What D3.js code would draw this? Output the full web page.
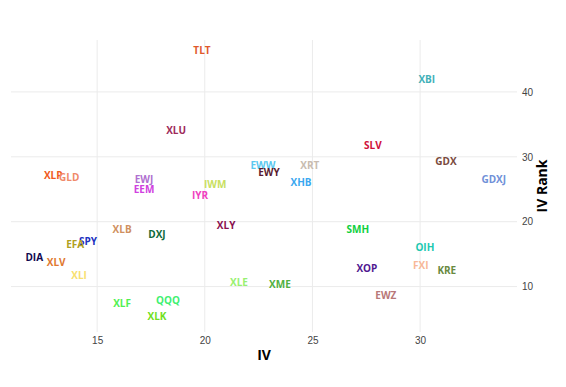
<!DOCTYPE html>
<html>
<head>
<meta charset="utf-8">
<script src="https://cdn.jsdelivr.net/npm/d3@7"></script>
<style>
    body { margin: 0; background: #fff; }
    svg { display: block; font-family: "Open Sans", Verdana, Arial, sans-serif; }
    .grid line { stroke: #ebebeb; stroke-width: 1; }
    .axis-scale text { fill: #444; font-size: 10px; }
    .axis-scale path { display: none; }
    .ticker { font-size: 10px; font-weight: bold; }
    .axis-title { font-size: 14px; font-weight: bold; fill: #000; }
</style>
</head>
<body>
<div id="chart-container"></div>
<script>
// tickers and their implied volatility / IV rank
const TICKERS = ["TLT", "XBI", "XLU", "SLV", "GDX", "GDXJ", "XLP", "GLD", "EWW", "XRT",
    "EWY", "XHB", "EWJ", "EEM", "IWM", "IYR", "XLY", "SMH", "XLB", "DXJ",
    "SPY", "EFA", "OIH", "DIA", "XLV", "XOP", "FXI", "KRE", "XLI", "XLE",
    "XME", "EWZ", "QQQ", "XLF", "XLK"];

const IV = [19.87, 30.31, 18.67, 27.81, 31.2, 33.42, 12.96, 13.7, 22.7, 24.88,
    22.98, 24.47, 17.18, 17.18, 20.48, 19.78, 20.99, 27.11, 16.16, 17.78,
    14.58, 13.98, 30.22, 12.08, 13.1, 27.53, 30.03, 31.24, 14.16, 21.59,
    23.49, 28.41, 18.29, 16.16, 17.78];

const IV_RANK = [46.5, 42.0, 34.15, 31.85, 29.4, 26.6, 27.2, 26.9, 28.8, 28.8,
    27.7, 26.15, 26.6, 25.1, 25.85, 24.15, 19.5, 18.9, 18.9, 18.15,
    17.1, 16.6, 16.15, 14.5, 13.85, 12.8, 13.4, 12.6, 11.85, 10.75,
    10.45, 8.75, 8.0, 7.4, 5.5];

// one colour per ticker
const PALETTE = ["#e0582b", "#40b0b8", "#9e2a5a", "#d0103a", "#7a4a3e", "#7090d8", "#f05a20", "#f08a6a", "#5ac8f0", "#c8bcb0",
    "#5a1a2e", "#3aa8f0", "#b070d0", "#d040e0", "#c8e060", "#f040c0", "#8a1050", "#10d040", "#d09060", "#106a3a",
    "#2030c0", "#b0a020", "#20c8b0", "#100a50", "#e07830", "#501890", "#f8b898", "#6a8a40", "#f8e070", "#98f070",
    "#50b040", "#b87878", "#40f070", "#50f050", "#70e020"];

const X_TICKS = [15, 20, 25, 30];
const Y_TICKS = [10, 20, 30, 40];

function drawScatter() {
    const width = 566;
    const height = 387;
    const plot = { left: 11, right: 517, top: 40, bottom: 332 };

    const svg = d3.select("#chart-container")
        .append("svg")
        .attr("width", width)
        .attr("height", height);

    const x = d3.scaleLinear()
        .domain([11, 34.5])
        .range([plot.left, plot.right]);

    const y = d3.scaleLinear()
        .domain([3, 48])
        .range([plot.bottom, plot.top]);

    const color = d3.scaleOrdinal()
        .domain(TICKERS)
        .range(PALETTE);

    // grid lines
    const grid = svg.append("g").attr("class", "grid");
    grid.selectAll(".vx")
        .data(X_TICKS)
        .enter()
        .append("line")
        .attr("x1", d => x(d)).attr("x2", d => x(d))
        .attr("y1", plot.top).attr("y2", plot.bottom);
    grid.selectAll(".hy")
        .data(Y_TICKS)
        .enter()
        .append("line")
        .attr("x1", plot.left).attr("x2", plot.right)
        .attr("y1", d => y(d)).attr("y2", d => y(d));

    // bottom axis
    svg.append("g")
        .attr("class", "axis-scale")
        .attr("transform", `translate(0,${plot.bottom})`)
        .call(d3.axisBottom(x).tickValues(X_TICKS).tickSize(0).tickPadding(5));

    // right axis
    svg.append("g")
        .attr("class", "axis-scale")
        .attr("transform", `translate(${plot.right},0)`)
        .call(d3.axisRight(y).tickValues(Y_TICKS).tickSize(0).tickPadding(5));

    // ticker labels
    svg.append("g")
        .selectAll("text")
        .data(TICKERS)
        .enter()
        .append("text")
        .attr("class", "ticker")
        .attr("x", (d, i) => x(IV[i]))
        .attr("y", (d, i) => y(IV_RANK[i]))
        .attr("text-anchor", "middle")
        .attr("dominant-baseline", "central")
        .attr("fill", d => color(d))
        .text(d => d);

    // axis titles
    svg.append("text")
        .attr("class", "axis-title")
        .attr("x", (plot.left + plot.right) / 2)
        .attr("y", 360)
        .attr("text-anchor", "middle")
        .text("IV");

    svg.append("text")
        .attr("class", "axis-title")
        .attr("transform", `translate(547,${(plot.top + plot.bottom) / 2}) rotate(-90)`)
        .attr("text-anchor", "middle")
        .text("IV Rank");
}

window.onload = () => {
    drawScatter();
};
</script>
</body>
</html>
